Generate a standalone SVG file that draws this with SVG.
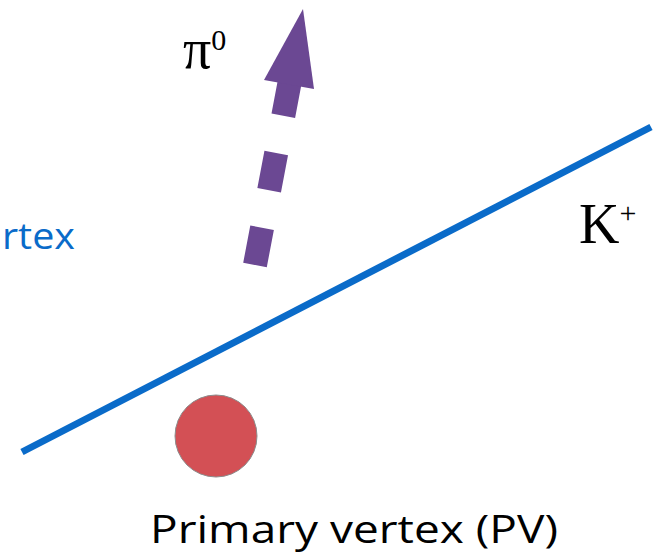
<svg xmlns="http://www.w3.org/2000/svg" width="661" height="558" viewBox="0 0 661 558">
<style>
.serif{font-family:"Liberation Serif","DejaVu Serif",serif;fill:#000}
.sans{font-family:"Open Sans","Noto Sans","Liberation Sans",sans-serif}
</style>
<rect width="661" height="558" fill="#fff"/>
<g id="connectors">
<line id="kaon-track" x1="22" y1="452" x2="651" y2="127" stroke="#0A6BC9" stroke-width="7"/>
<g id="pion-arrow" fill="#6B4893">
<line x1="255" y1="265" x2="289.5" y2="83" stroke="#6B4893" stroke-width="24" stroke-dasharray="38 38 38 38 40"/>
<polygon points="303,9 264,80 314,89"/>
</g>
</g>
<g id="pv">
<circle cx="216" cy="436" r="41" fill="#D35055" stroke="#8C8C8C" stroke-width="1"/>
<text class="sans" x="150" y="543" font-size="39" textLength="408" lengthAdjust="spacingAndGlyphs" fill="#000">Primary vertex (PV)</text>
</g>
<g id="sv-label">
<text class="sans" x="2" y="249" font-size="37" textLength="73" lengthAdjust="spacingAndGlyphs" fill="#0A6BC9">rtex</text>
</g>
<g id="kaon-label">
<text class="serif" x="579" y="243" font-size="56">K<tspan font-size="30" dy="-20">+</tspan></text>
</g>
<g id="pion-label">
<text class="serif" x="183" y="68" font-size="56">π<tspan font-size="30" dy="-18">0</tspan></text>
</g>
</svg>
